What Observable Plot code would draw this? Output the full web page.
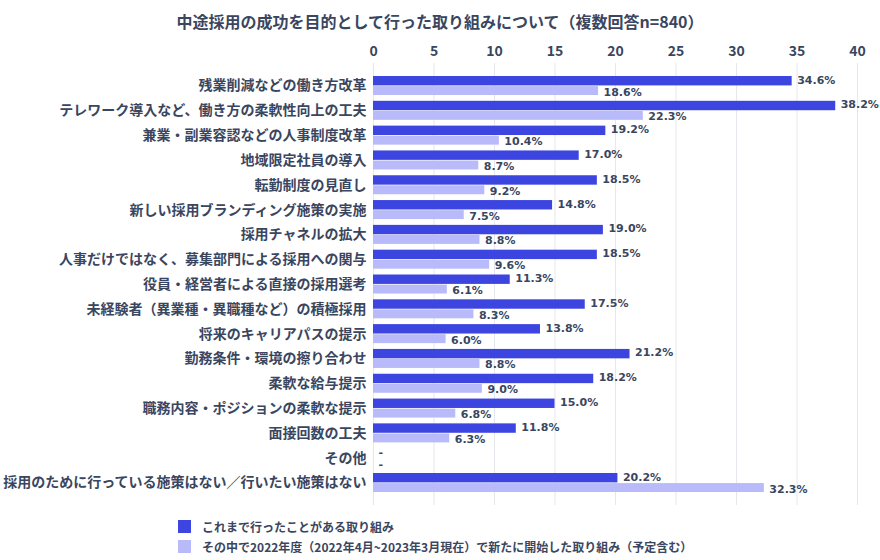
<!DOCTYPE html>
<html>
<head>
<meta charset="utf-8">
<script src="https://cdn.jsdelivr.net/npm/d3@7"></script>
<script src="https://cdn.jsdelivr.net/npm/@observablehq/plot@0.6"></script>
<style>
  body { margin: 0; background: #fff; width: 880px; font-family: "Noto Sans CJK JP", "Noto Sans", sans-serif; color: #3a4660; }
  #title { height: 40px; line-height: 42px; text-align: center; font-size: 16px; font-weight: bold; color: #3a4660; }
  #legend { padding-top: 7px; padding-left: 178px; font-size: 12px; font-weight: bold; color: #3a4660; }
  .lg { display: flex; align-items: center; height: 20px; }
  .sw { width: 13px; height: 13px; margin-right: 11px; }
  svg text { font-weight: bold; }
  svg { overflow: visible; }
</style>
</head>
<body>
<div id="title">中途採用の成功を目的として行った取り組みについて（複数回答n=840）</div>
<div id="chart"></div>
<div id="legend"></div>
<script>
const categories = [
  "残業削減などの働き方改革",
  "テレワーク導入など、働き方の柔軟性向上の工夫",
  "兼業・副業容認などの人事制度改革",
  "地域限定社員の導入",
  "転勤制度の見直し",
  "新しい採用ブランディング施策の実施",
  "採用チャネルの拡大",
  "人事だけではなく、募集部門による採用への関与",
  "役員・経営者による直接の採用選考",
  "未経験者（異業種・異職種など）の積極採用",
  "将来のキャリアパスの提示",
  "勤務条件・環境の擦り合わせ",
  "柔軟な給与提示",
  "職務内容・ポジションの柔軟な提示",
  "面接回数の工夫",
  "その他",
  "採用のために行っている施策はない／行いたい施策はない"
];
const pastValues = [34.6, 38.2, 19.2, 17.0, 18.5, 14.8, 19.0, 18.5, 11.3, 17.5, 13.8, 21.2, 18.2, 15.0, 11.8, null, 20.2];
const newValues  = [18.6, 22.3, 10.4, 8.7, 9.2, 7.5, 8.8, 9.6, 6.1, 8.3, 6.0, 8.8, 9.0, 6.8, 6.3, null, 32.3];
const seriesNames = [
  "これまで行ったことがある取り組み",
  "その中で2022年度（2022年4月~2023年3月現在）で新たに開始した取り組み（予定含む）"
];
const colors = ["#3c45e0", "#b8bafa"];
const xTicks = [0, 5, 10, 15, 20, 25, 30, 35, 40];

const past = categories.map((c, i) => ({cat: c, v: pastValues[i] ?? 0, label: pastValues[i] == null ? "-" : pastValues[i].toFixed(1) + "%"}));
const neu = categories.map((c, i) => ({cat: c, v: newValues[i] ?? 0, label: newValues[i] == null ? "-" : newValues[i].toFixed(1) + "%"}));

const chart = Plot.plot({
  width: 880,
  height: 469,
  marginTop: 23,
  marginBottom: 4,
  marginLeft: 373,
  marginRight: 23,
  style: {fontFamily: "'Noto Sans CJK JP', 'Noto Sans', sans-serif", color: "#3a4660", background: "#fff", overflow: "visible"},
  x: {domain: [0, 40], axis: "top", ticks: xTicks, tickSize: 0, tickPadding: 8, label: null},
  y: {domain: categories, paddingInner: 0.234, paddingOuter: 0.524, round: false, tickSize: 0, tickPadding: 7, label: null},
  marks: [
    Plot.ruleX(xTicks, {stroke: "#e6e7ec", strokeWidth: 1}),
    Plot.barX(past, {y: "cat", x: "v", fill: colors[0], insetBottom: 9.6, insetTop: 0}),
    Plot.barX(neu, {y: "cat", x: "v", fill: colors[1], insetTop: 10.1, insetBottom: 0}),
    Plot.text(past, {y: "cat", x: "v", text: "label", textAnchor: "start", dx: 5, dy: -6, fontSize: 11, fontFamily: "DejaVu Sans", fill: "#3a4660"}),
    Plot.text(neu, {y: "cat", x: "v", text: "label", textAnchor: "start", dx: 5, dy: 6, fontSize: 11, fontFamily: "DejaVu Sans", fill: "#3a4660"})
  ]
});
chart.querySelectorAll('g[aria-label="y-axis tick label"] text, g[aria-label="y-axis"] text').forEach(t => t.setAttribute("font-size", "14"));
chart.querySelectorAll('g[aria-label="x-axis tick label"] text, g[aria-label="x-axis"] text').forEach(t => t.setAttribute("font-size", "14"));
document.getElementById("chart").appendChild(chart);

const lg = document.getElementById("legend");
seriesNames.forEach((n, i) => {
  const row = document.createElement("div");
  row.className = "lg";
  row.innerHTML = `<div class="sw" style="background:${colors[i]}"></div><span>${n}</span>`;
  lg.appendChild(row);
});
</script>
</body>
</html>
